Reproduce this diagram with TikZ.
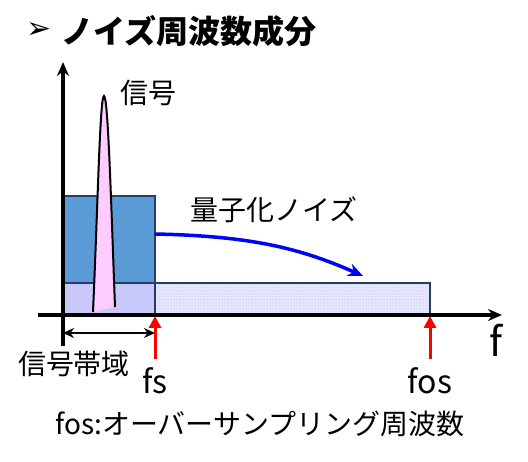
\documentclass[tikz,border=0pt]{standalone}
\usepackage{fontspec}
\setmainfont{Noto Sans CJK JP}
\newfontfamily\symfont{DejaVu Sans}
\usetikzlibrary{arrows.meta, patterns}
\definecolor{bandblue}{HTML}{5B9BD5}
\definecolor{bandedge}{HTML}{243F60}
\definecolor{bandlav}{HTML}{C8C8FA}
\definecolor{noiselav}{HTML}{E8E8FC}
\definecolor{spikepink}{HTML}{FFCCFF}

\begin{document}
\begin{tikzpicture}[
    x=1pt, y=-1pt,
    lbl/.style={font=\fontsize{28}{32}\selectfont, inner sep=0pt},
    flbl/.style={font=\fontsize{32}{36}\selectfont, inner sep=0pt},
    axis/.style={line width=3.2pt, -{Stealth[length=14pt, width=12pt]}},
    band/.style={draw=bandedge, line width=2.4pt},
    marker/.style={red, line width=3pt, -{Triangle[length=12pt, width=12pt]}},
    noisearr/.style={blue, line width=3.5pt, -{Stealth[length=15pt, width=13pt]}}
]
\useasboundingbox (0,0) rectangle (528,462);

% title
\node[font=\symfont\fontsize{30}{32}\selectfont, inner sep=0pt] (bullet) at (39,31) {➢};
\node[font=\fontsize{32}{36}\selectfont\bfseries, anchor=west, inner sep=0pt] (title) at (61,31)
    {ノイズ周波数成分};

% axes
\coordinate (org) at (63,315);
\coordinate (ytop) at (63,62);
\coordinate (ybot) at (63,346);
\coordinate (xleft) at (38,315);
\coordinate (xright) at (502,315);

% noise bands
\draw[band, fill=bandblue] (63,196) rectangle (155,283);
\draw[band, fill=bandlav] (63,283) rectangle (155,315);
\draw[band, preaction={fill=noiselav}, pattern=dots, pattern color=bandlav!80!blue] (155,283) rectangle (430,315);

% signal spike
\fill[spikepink] (93,312) .. controls (98,200) and (100,96) .. (104,96)
    .. controls (108,96) and (111,200) .. (115,307) -- cycle;
\draw[line width=2pt] (93,312) .. controls (98,200) and (100,96) .. (104,96)
    .. controls (108,96) and (111,200) .. (115,307);

\draw[axis] (ybot) -- (ytop);
\draw[axis] (xleft) -- (xright);

% labels
\node[lbl] (sig) at (148,93) {信号};
\node[lbl] (qnoise) at (274,210) {量子化ノイズ};
\node[lbl] (bandw) at (74,364) {信号帯域};
\node[flbl] (fs) at (155,381) {fs};
\node[flbl] (fos) at (430,381) {fos};
\node[font=\fontsize{40}{44}\selectfont, inner sep=0pt] (faxis) at (496,340) {f};
\node[lbl] (note) at (260,424) {fos:オーバーサンプリング周波数};

% quantization noise shift
\coordinate (qfrom) at (155,234);
\coordinate (qto) at (363,276);
\draw[noisearr] (qfrom) .. controls (250,236) and (300,248) .. (qto);

% signal bandwidth
\coordinate (bwl) at (63,333);
\coordinate (bwr) at (155,333);
\draw[line width=2.5pt, {Stealth[length=11pt, width=10pt]}-{Stealth[length=11pt, width=10pt]}] (bwl) -- (bwr);

% frequency markers
\coordinate (fsbot) at (155,359);
\coordinate (fstop) at (155,316);
\coordinate (fosbot) at (430,359);
\coordinate (fostop) at (430,316);
\draw[marker] (fsbot) -- (fstop);
\draw[marker] (fosbot) -- (fostop);

\end{tikzpicture}
\end{document}
